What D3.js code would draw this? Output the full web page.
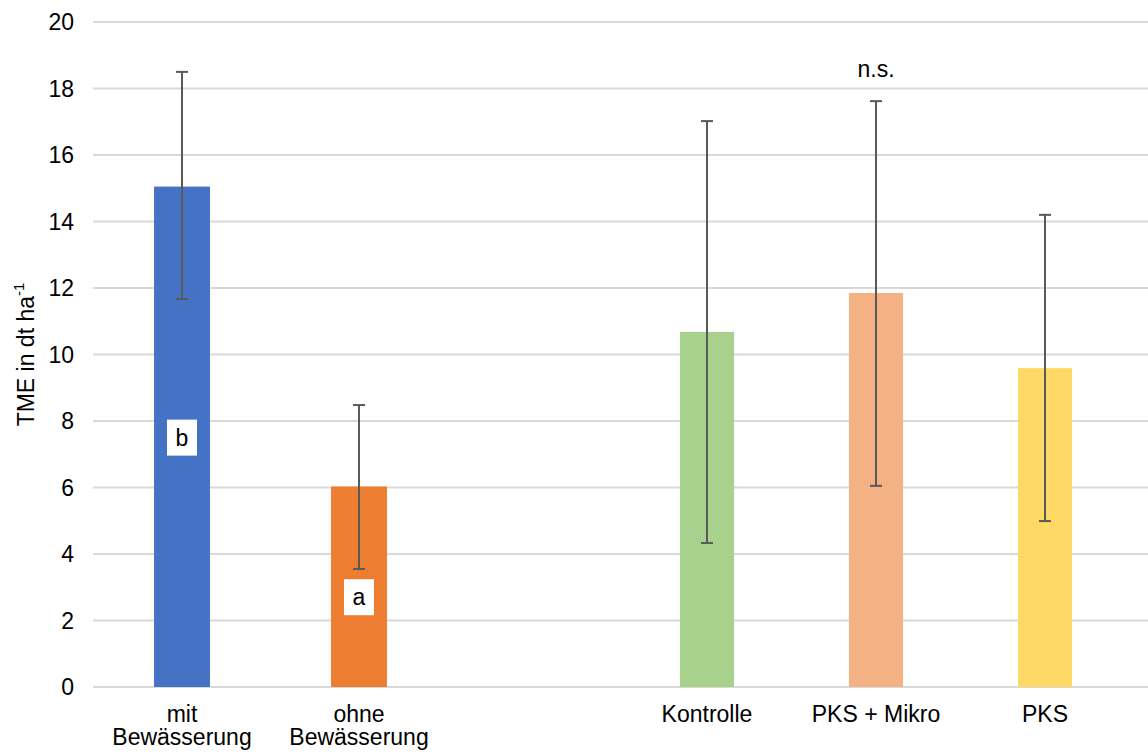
<!DOCTYPE html>
<html>
<head>
<meta charset="utf-8">
<script src="https://cdn.jsdelivr.net/npm/d3@7"></script>
<style>
  body { margin: 0; background: #fff; }
  text { font-family: Arial, "Liberation Sans", sans-serif; fill: #000; }
</style>
</head>
<body>
<div id="chart"></div>
<script>
// CHART DATA
const leftCats = ['mit\nBewässerung', 'ohne\nBewässerung'];
const leftVals = [15.05, 6.03];
const leftErrHi = [18.5, 8.48];
const leftErrLo = [11.67, 3.55];
const leftLetters = ['b', 'a'];
const leftLetterY = [7.5, 2.7];

const rightCats = ['Kontrolle', 'PKS + Mikro', 'PKS'];
const rightVals = [10.68, 11.85, 9.59];
const rightErrHi = [17.02, 17.62, 14.2];
const rightErrLo = [4.33, 6.05, 4.99];

const yTicks = [0, 2, 4, 6, 8, 10, 12, 14, 16, 18, 20];
const colors = ['#4472C4', '#ED7D31', '#A9D18E', '#F4B183', '#FFD966'];

// PLOT DEFAULTS
const W = 1148, H = 755;
const PLOT = { left: 93, right: 1148, top: 22, bottom: 687 };
const FONT = '23px';

const svg = d3.select('#chart').append('svg')
  .attr('width', W).attr('height', H);

const y = d3.scaleLinear().domain([0, 20]).range([PLOT.bottom, PLOT.top]);

// two groups with their own spacing
const xLeft = d3.scaleBand().domain(leftCats).range([93.5, 447.5]).paddingInner(0.684).paddingOuter(0.342);
const xRight = d3.scaleBand().domain(rightCats).range([622.5, 1129.5]).paddingInner(0.68).paddingOuter(0.34);

// gridlines
svg.append('g').selectAll('line')
  .data(yTicks)
  .join('line')
  .attr('x1', PLOT.left).attr('x2', PLOT.right)
  .attr('y1', d => y(d)).attr('y2', d => y(d))
  .attr('stroke', '#d9d9d9').attr('stroke-width', 2);

// y tick labels
svg.append('g').selectAll('text')
  .data(yTicks)
  .join('text')
  .attr('x', 74).attr('y', d => y(d))
  .attr('dy', '0.35em')
  .attr('text-anchor', 'end')
  .style('font-size', FONT)
  .text(d => d);

// y axis title
const yt = svg.append('text')
  .attr('transform', `translate(34, ${(PLOT.top + PLOT.bottom) / 2}) rotate(-90)`)
  .attr('text-anchor', 'middle')
  .style('font-size', FONT);
yt.append('tspan').text('TME in dt ha');
yt.append('tspan').attr('dy', -10).style('font-size', '15px').text('-1');

function drawGroup (x, cats, vals, hi, lo, cols) {
  const rows = cats.map((c, i) => ({ c, v: vals[i], hi: hi[i], lo: lo[i], col: cols[i] }));
  const g = svg.append('g');

  g.selectAll('rect')
    .data(rows)
    .join('rect')
    .attr('x', d => x(d.c))
    .attr('y', d => y(d.v))
    .attr('width', x.bandwidth())
    .attr('height', d => y(0) - y(d.v))
    .attr('fill', d => d.col);

  const err = g.selectAll('g.err').data(rows).join('g').attr('class', 'err');
  const cx = d => x(d.c) + x.bandwidth() / 2;
  err.append('line')
    .attr('x1', cx).attr('x2', cx)
    .attr('y1', d => y(d.hi)).attr('y2', d => y(d.lo))
    .attr('stroke', '#595959').attr('stroke-width', 2);
  ['hi', 'lo'].forEach(k => {
    err.append('line')
      .attr('x1', d => cx(d) - 6).attr('x2', d => cx(d) + 6)
      .attr('y1', d => y(d[k])).attr('y2', d => y(d[k]))
      .attr('stroke', '#595959').attr('stroke-width', 2);
  });

  // category labels (may span two lines)
  g.selectAll('text.cat')
    .data(rows)
    .join('text')
    .attr('class', 'cat')
    .attr('text-anchor', 'middle')
    .style('font-size', FONT)
    .each(function (d) {
      const lines = d.c.split('\n');
      d3.select(this).selectAll('tspan')
        .data(lines)
        .join('tspan')
        .attr('x', cx(d))
        .attr('y', (l, i) => 722 + i * 23)
        .text(l => l);
    });
}

drawGroup(xLeft, leftCats, leftVals, leftErrHi, leftErrLo, colors.slice(0, 2));
drawGroup(xRight, rightCats, rightVals, rightErrHi, rightErrLo, colors.slice(2));

// significance letters
const lg = svg.append('g').selectAll('g')
  .data(leftCats.map((c, i) => ({ c, t: leftLetters[i], v: leftLetterY[i] })))
  .join('g')
  .attr('transform', d => `translate(${xLeft(d.c) + xLeft.bandwidth() / 2}, ${y(d.v)})`);
lg.append('rect')
  .attr('x', -15).attr('y', -18).attr('width', 30).attr('height', 36)
  .attr('fill', '#fff');
lg.append('text')
  .attr('text-anchor', 'middle').attr('dy', '0.35em')
  .style('font-size', FONT)
  .text(d => d.t);

svg.append('text')
  .attr('x', xRight('PKS + Mikro') + xRight.bandwidth() / 2)
  .attr('y', y(18.6))
  .attr('dy', '0.35em')
  .attr('text-anchor', 'middle')
  .style('font-size', FONT)
  .text('n.s.');
</script>
</body>
</html>
